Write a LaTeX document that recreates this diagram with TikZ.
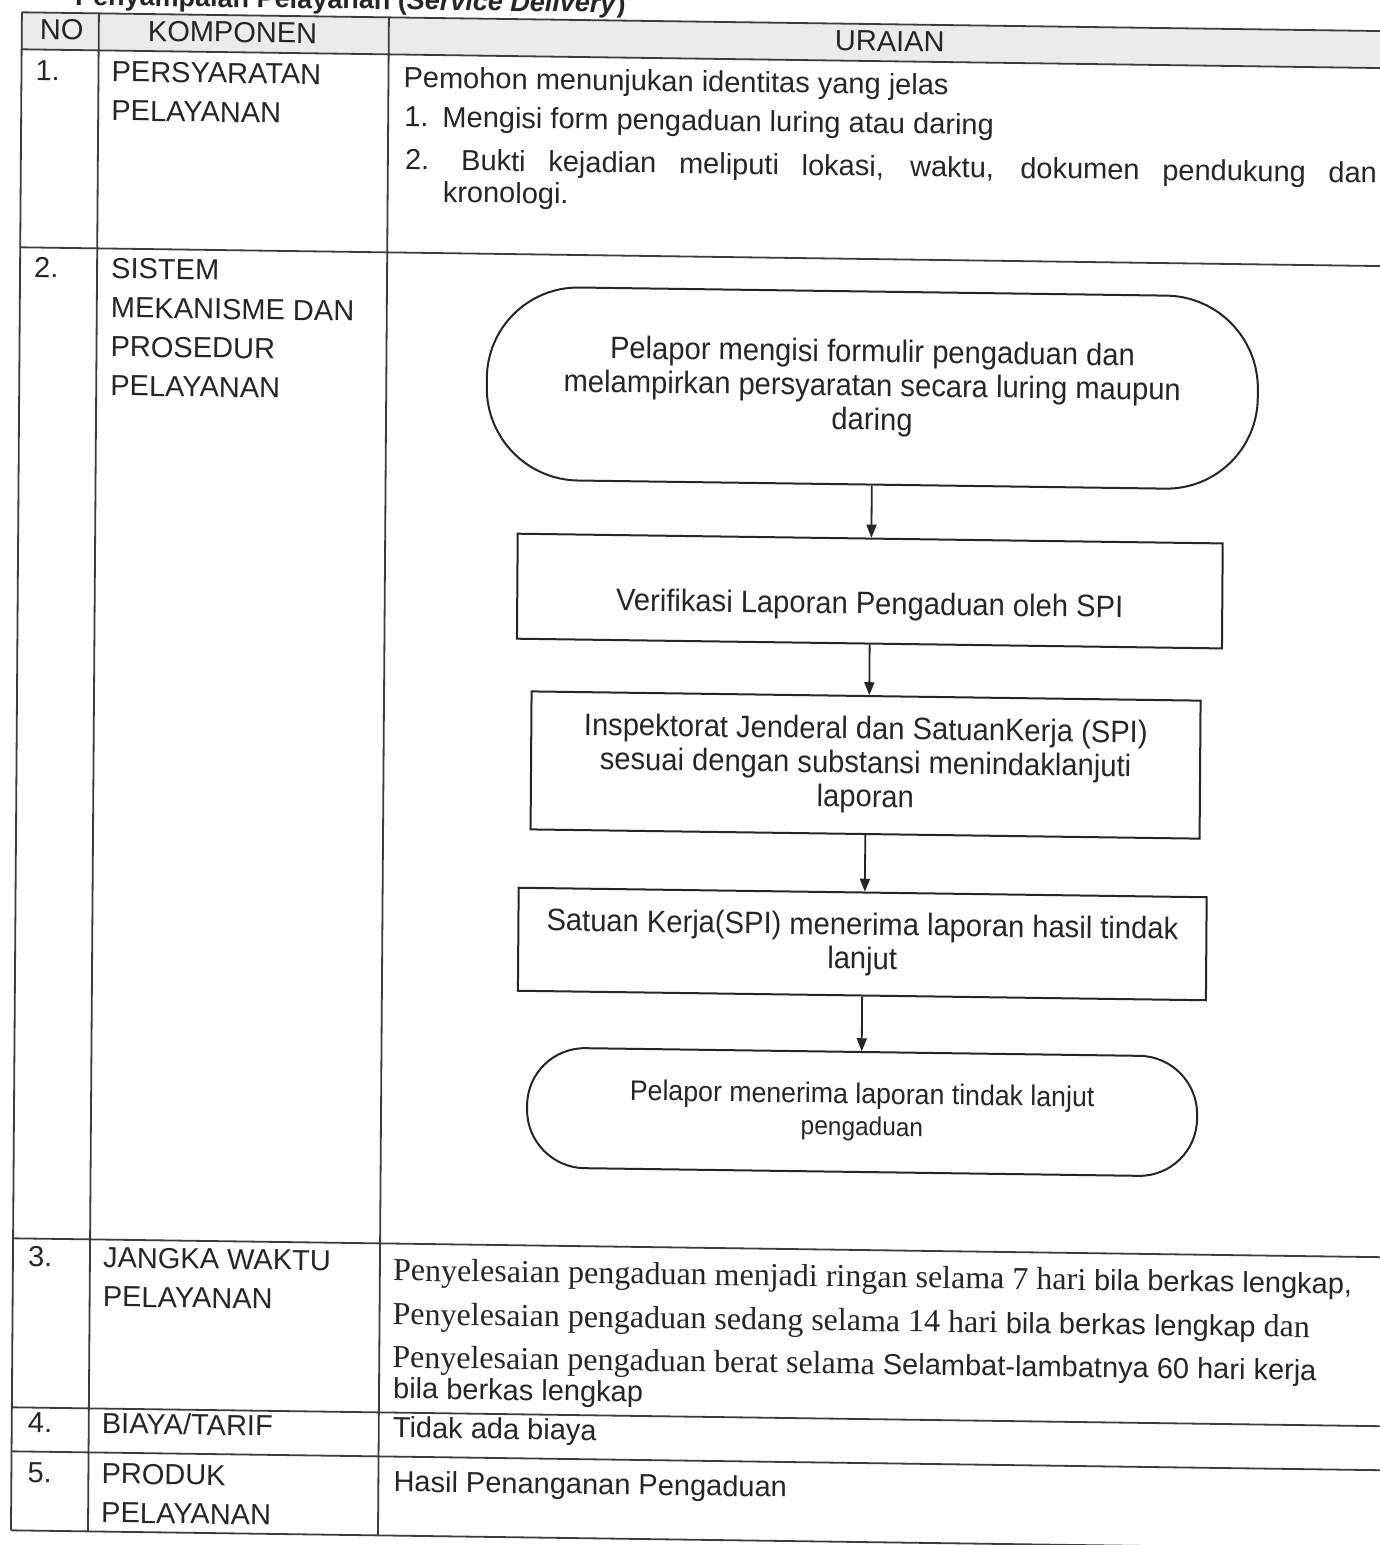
\documentclass[tikz,border=0pt]{standalone}
\usepackage{fontspec}
\setmainfont{Liberation Sans}
\newfontfamily\serifrm{Liberation Serif}
\newfontfamily\flowfont[FakeStretch=0.94]{Liberation Sans}
\usetikzlibrary{arrows.meta}
\definecolor{ink}{HTML}{262626}
\definecolor{hdr}{HTML}{EBEBEB}
\newcommand\tabsz{\fontsize{29}{34}\selectfont}
\newcommand\sr{\serifrm\fontsize{32}{36}\selectfont}
\newcommand\fsz{\fontsize{31}{34}\selectfont}
\begin{document}
\begin{tikzpicture}[x=1pt,y=-1pt,
  cell/.style={anchor=base west, inner sep=0pt, font=\tabsz, text=ink},
  tline/.style={line width=1.8pt, draw=ink!90},
  proc/.style={draw=ink, line width=2pt, rectangle, align=center, font=\flowfont\fsz, text=ink, inner sep=0pt},
  term/.style={proc},
  arr/.style={-{Triangle[length=13pt,width=10pt]}, line width=1.8pt, draw=ink}]
\useasboundingbox (0,0) rectangle (1380,1545);
\clip (0,0) rectangle (1380,1545);
\fill[white] (0,0) rectangle (1380,1545);
\begin{scope}[cm={1,-0.0138,0.0072,1,(0,0)}, transform shape]
% title (cut at top edge)
\node[anchor=base west, inner sep=0pt, font=\fontsize{27}{30}\selectfont\bfseries, text=ink] (title) at (75,4) {Penyampaian Pelayanan (\textit{Service Delivery})};
% header shading and grid
\fill[hdr] (22,12) rectangle (1400,49);
\draw[tline] (22,12) -- (1400,12);
\draw[tline] (22,49) -- (1400,49);
\draw[tline] (22,247) -- (1400,247);
\draw[tline] (22,1238) -- (1400,1238);
\draw[tline] (22,1407) -- (1400,1407);
\draw[tline] (22,1451) -- (1400,1451);
\draw[tline] (22,1530) -- (1400,1530);
\draw[tline] (22,12) -- (22,1530);
\draw[tline] (99,12) -- (99,1530);
\draw[tline] (389,12) -- (389,1530);
% header
\node[cell] (hno) at (40,39) {NO};
\node[cell] (hkomp) at (148,39) {KOMPONEN};
\node[cell, anchor=base] (hura) at (890,39) {URAIAN};
% row 1
\node[cell] (n1) at (36,80) {1.};
\node[cell] (k1a) at (112,80) {PERSYARATAN};
\node[cell] (k1b) at (112,119) {PELAYANAN};
\node[cell] (u1a) at (404,82) {Pemohon menunjukan identitas yang jelas};
\node[cell] (u1b) at (405,121) {1.\hspace{14pt}Mengisi form pengaduan luring atau daring};
\node[cell] (u1c) at (406,164) {\makebox[972pt][s]{2.\hspace{32pt}Bukti kejadian meliputi lokasi, waktu, dokumen pendukung dan}};
\node[cell] (u1d) at (444,196) {kronologi.};
% row 2
\node[cell] (n2) at (36,277) {2.};
\node[cell] (k2a) at (113,277) {SISTEM};
\node[cell] (k2b) at (113,316) {MEKANISME DAN};
\node[cell] (k2c) at (113,355) {PROSEDUR};
\node[cell] (k2d) at (113,394) {PELAYANAN};
% flowchart
\node[term, minimum width=771pt, minimum height=193pt, rounded corners=92pt] (t1) at (875,376)
  {Pelapor mengisi formulir pengaduan dan\\melampirkan persyaratan secara luring maupun\\daring};
\node[proc, minimum width=705pt, minimum height=105pt, text height=53pt, text depth=7pt] (b2) at (874,579)
  {Verifikasi Laporan Pengaduan oleh SPI};
\node[proc, minimum width=669pt, minimum height=138pt] (b3) at (871,753)
  {Inspektorat Jenderal dan SatuanKerja (SPI)\\sesuai dengan substansi menindaklanjuti\\laporan};
\node[proc, minimum width=688pt, minimum height=103pt] (b4) at (869,932)
  {Satuan Kerja(SPI) menerima laporan hasil tindak\\lanjut};
\node[term, minimum width=670pt, minimum height=120pt, rounded corners=58pt] (t5) at (870,1100)
  {{\fontsize{28.4}{30}\selectfont Pelapor menerima laporan tindak lanjut}\\[-2pt]{\fontsize{26}{28}\selectfont pengaduan}};
\draw[arr] (t1.south) -- (t1.south |- b2.north);
\draw[arr] (b2.south) -- (b2.south |- b3.north);
\draw[arr] (b3.south) -- (b3.south |- b4.north);
\draw[arr] (b4.south) -- (b4.south |- t5.north);
% row 3
\node[cell] (n3) at (37,1266) {3.};
\node[cell] (k3a) at (112,1266) {JANGKA WAKTU};
\node[cell] (k3b) at (112,1305) {PELAYANAN};
\node[cell] (u3a) at (402,1275) {{\sr Penyelesaian pengaduan menjadi ringan selama 7 hari }bila berkas lengkap,};
\node[cell] (u3b) at (402,1319) {{\sr Penyelesaian pengaduan sedang selama 14 hari }bila berkas lengkap{\sr\ dan}};
\node[cell] (u3c) at (402,1362) {{\sr Penyelesaian pengaduan berat selama }Selambat-lambatnya 60 hari kerja};
\node[cell] (u3d) at (403,1393) {bila berkas lengkap};
% row 4
\node[cell] (n4) at (38,1432) {4.};
\node[cell] (k4) at (112,1432) {BIAYA/TARIF};
\node[cell] (u4) at (403,1432) {Tidak ada biaya};
% row 5
\node[cell] (n5) at (38,1482) {5.};
\node[cell] (k5a) at (112,1482) {PRODUK};
\node[cell] (k5b) at (112,1521) {PELAYANAN};
\node[cell] (u5) at (404,1486) {Hasil Penanganan Pengaduan};
\end{scope}
\end{tikzpicture}
\end{document}
